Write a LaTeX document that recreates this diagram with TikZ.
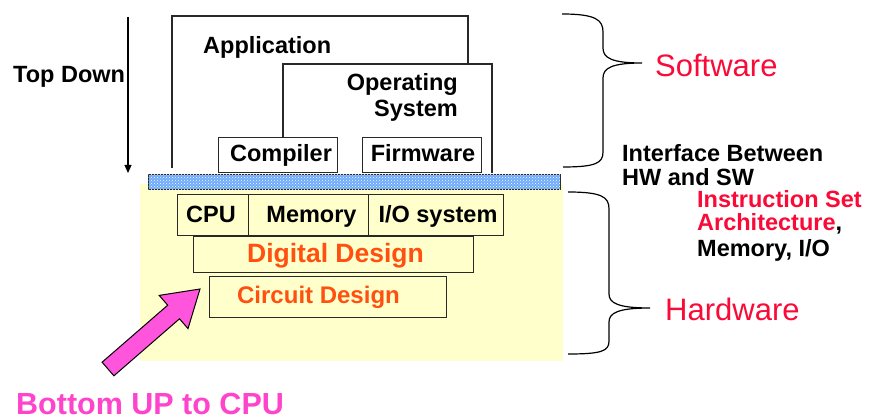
\documentclass[tikz,border=0pt]{standalone}
\usepackage{fontspec}
\setmainfont{Liberation Sans}
\usetikzlibrary{arrows.meta,patterns}
\definecolor{swred}{RGB}{250,10,55}
\definecolor{ddorange}{RGB}{255,80,16}
\definecolor{pinkfill}{RGB}{255,85,221}
\definecolor{pinktext}{RGB}{255,68,204}
\definecolor{hwyellow}{RGB}{255,255,204}
\definecolor{barblue}{RGB}{110,170,250}
\definecolor{edge}{RGB}{40,40,40}
\tikzset{
  box/.style={draw=edge, line width=1.2pt, inner sep=0pt, anchor=north west},
  bl/.style={font=\fontsize{23.5}{26}\selectfont\bfseries, inner sep=0pt},
  side/.style={font=\fontsize{23.5}{26}\selectfont\bfseries, inner sep=0pt, anchor=base west},
  big/.style={font=\fontsize{31}{34}\selectfont, text=swred, inner sep=0pt, anchor=base west},
  brace/.style={draw=black, line width=1.2pt},
  outline/.style={draw=edge, line width=1.2pt}
}
\begin{document}
\begin{tikzpicture}[x=1pt,y=-1pt]
\useasboundingbox (0,0) rectangle (870,419);
% hardware background
\fill[hwyellow] (140,184) rectangle (563,361);
% software outlines
\draw[outline] (172,168) -- (172,16) -- (468,16) -- (468,64);
\draw[outline] (283,137) -- (283,64) -- (492,64) -- (492,173);
\node[bl, anchor=base west] (app) at (203,54) {Application};
\node[bl, anchor=base east] (os) at (458,91) {Operating};
\node[bl, anchor=base east] (os2) at (458,117) {System};
\node[box, fill=white, minimum width=119pt, minimum height=35pt] (comp) at (218,137) {};
\node[bl, anchor=base] at (281,162) {Compiler};
\node[box, fill=white, minimum width=119pt, minimum height=35pt] (firm) at (362,137) {};
\node[bl, anchor=base] at (423,162) {Firmware};
% interface bar
\node[box, fill=barblue, postaction={pattern=crosshatch dots, pattern color=white}, minimum width=412pt, minimum height=15pt] (bar) at (148,174) {};
% hardware boxes
\node[box, minimum width=71pt, minimum height=41pt] (cpu) at (177,194) {};
\node[bl, anchor=base] at (211,223) {CPU};
\node[box, minimum width=120pt, minimum height=41pt] (mem) at (248,194) {};
\node[bl, anchor=base] at (311.5,223) {Memory};
\node[box, minimum width=135pt, minimum height=41pt] (io) at (368,194) {};
\node[bl, anchor=base] at (438,223) {I/O system};
\node[box, minimum width=280pt, minimum height=36pt] (dd) at (193,236) {};
\node[bl, anchor=base, text=ddorange, font=\fontsize{26.5}{28}\selectfont\bfseries] (ddt) at (335.5,263) {Digital Design};
\node[box, minimum width=237pt, minimum height=41pt] (cd) at (209,276) {};
\node[bl, anchor=base, text=ddorange, font=\fontsize{24}{26}\selectfont\bfseries] (cdt) at (318.5,304) {Circuit Design};
% top down arrow
\coordinate (tdtop) at (128,17);
\coordinate (tdbot) at (128,173);
\draw[line width=1.2pt, -{Triangle[width=7pt,length=8pt]}] (tdtop) -- (tdbot);
\node[bl, anchor=base west] (td) at (13,83) {Top Down};
% pink arrow
\draw[fill=pinkfill, draw=black, line width=1pt, line join=miter]
  (113.9,375.8) -- (102.1,362.2) -- (167.7,305.2) -- (159.2,295.4) -- (200,289)
  -- (188,328.6) -- (179.5,318.8) -- cycle;
\node[anchor=base west, inner sep=0pt, text depth=0pt, text=pinktext, font=\fontsize{30.5}{33}\selectfont\bfseries] (bu) at (16,414) {Bottom UP to CPU};
% braces
\draw[brace] (562,14) .. controls (596,14) and (603,20) .. (603,32) -- (603,48)
  .. controls (603,58) and (612,63) .. (642,63)
  .. controls (612,63) and (603,68) .. (603,78) -- (603,152)
  .. controls (603,163) and (596,167) .. (563,167);
\draw[brace] (568,192) .. controls (602,192) and (609,197) .. (609,209) -- (609,294)
  .. controls (609,303) and (618,308) .. (650,308)
  .. controls (618,308) and (609,313) .. (609,322) -- (609,341)
  .. controls (609,351) and (602,354) .. (568,354);
\node[big] (sw) at (655,77) {Software};
\node[big] (hw) at (665,321) {Hardware};
% interface text
\node[side] (if1) at (622,162) {Interface Between};
\node[side] (if2) at (622,186) {HW and SW};
\node[side, text=swred] (isa1) at (697,208) {Instruction Set};
\node[side] (isa2) at (697,231) {\textcolor{swred}{Architecture},};
\node[side] (isa3) at (697,257) {Memory, I/O};
\end{tikzpicture}
\end{document}
